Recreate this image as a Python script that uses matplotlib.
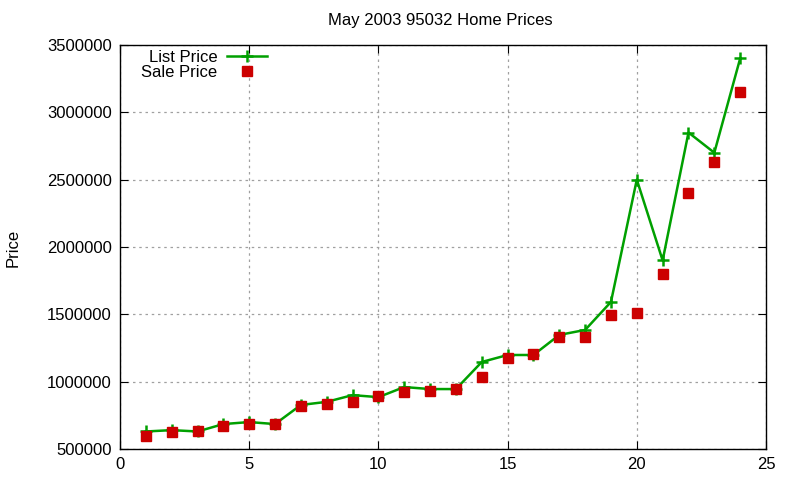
import matplotlib
matplotlib.use("Agg")
from matplotlib import pyplot as plt

months = list(range(1, 25))
list_price = [630000, 640000, 630000, 685000, 700000, 685000, 827000, 850000,
              900000, 885000, 960000, 945000, 945000, 1146000, 1198000, 1198000,
              1347000, 1384000, 1592000, 2500000, 1900000, 2850000, 2700000, 3400000]
sale_price = [597000, 626000, 630000, 670000, 685000, 685000, 820000, 835000,
              850000, 895000, 923000, 930000, 945000, 1035000, 1175000, 1205000,
              1332000, 1332000, 1495000, 1510000, 1800000, 2400000, 2630000, 3150000]

plt.rcParams["font.family"] = ["Liberation Sans", "DejaVu Sans"]
plt.rcParams["font.size"] = 12

fig = plt.figure(figsize=(8, 4.8), dpi=100)
ax = fig.add_axes([0.15, 0.0646, 0.8075, 0.8417])

ax.plot(months, list_price, color="#00a000", lw=1.8, marker="+", ms=9, mew=1.8,
        label="List Price")
ax.plot(months, sale_price, ls="none", color="#cc0000", marker="s", ms=6.5,
        label="Sale Price")

ax.set_xlim(0, 25)
ax.set_ylim(500000, 3500000)
ax.set_xticks(range(0, 26, 5))
ax.set_yticks(range(500000, 3500001, 500000))
ax.ticklabel_format(style="plain", axis="y")
ax.grid(True, color="#a0a0a0", ls=(0, (2, 3)), lw=0.9)
ax.tick_params(direction="in", top=True, right=True, length=6, labelsize=12, pad=6)
for s in ax.spines.values():
    s.set_linewidth(1.0)

fig.text(0.55, 0.958, "May 2003 95032 Home Prices", ha="center", va="center", fontsize=12)
fig.text(0.016, 0.483, "Price", rotation=90, ha="center", va="center", fontsize=12)

ax.legend(loc="upper left", bbox_to_anchor=(0.033, 0.988), frameon=False,
          markerfirst=False, handlelength=2.4, handletextpad=0.6,
          labelspacing=0.0, borderpad=0, borderaxespad=0)

fig.savefig("out.png", dpi=100)
